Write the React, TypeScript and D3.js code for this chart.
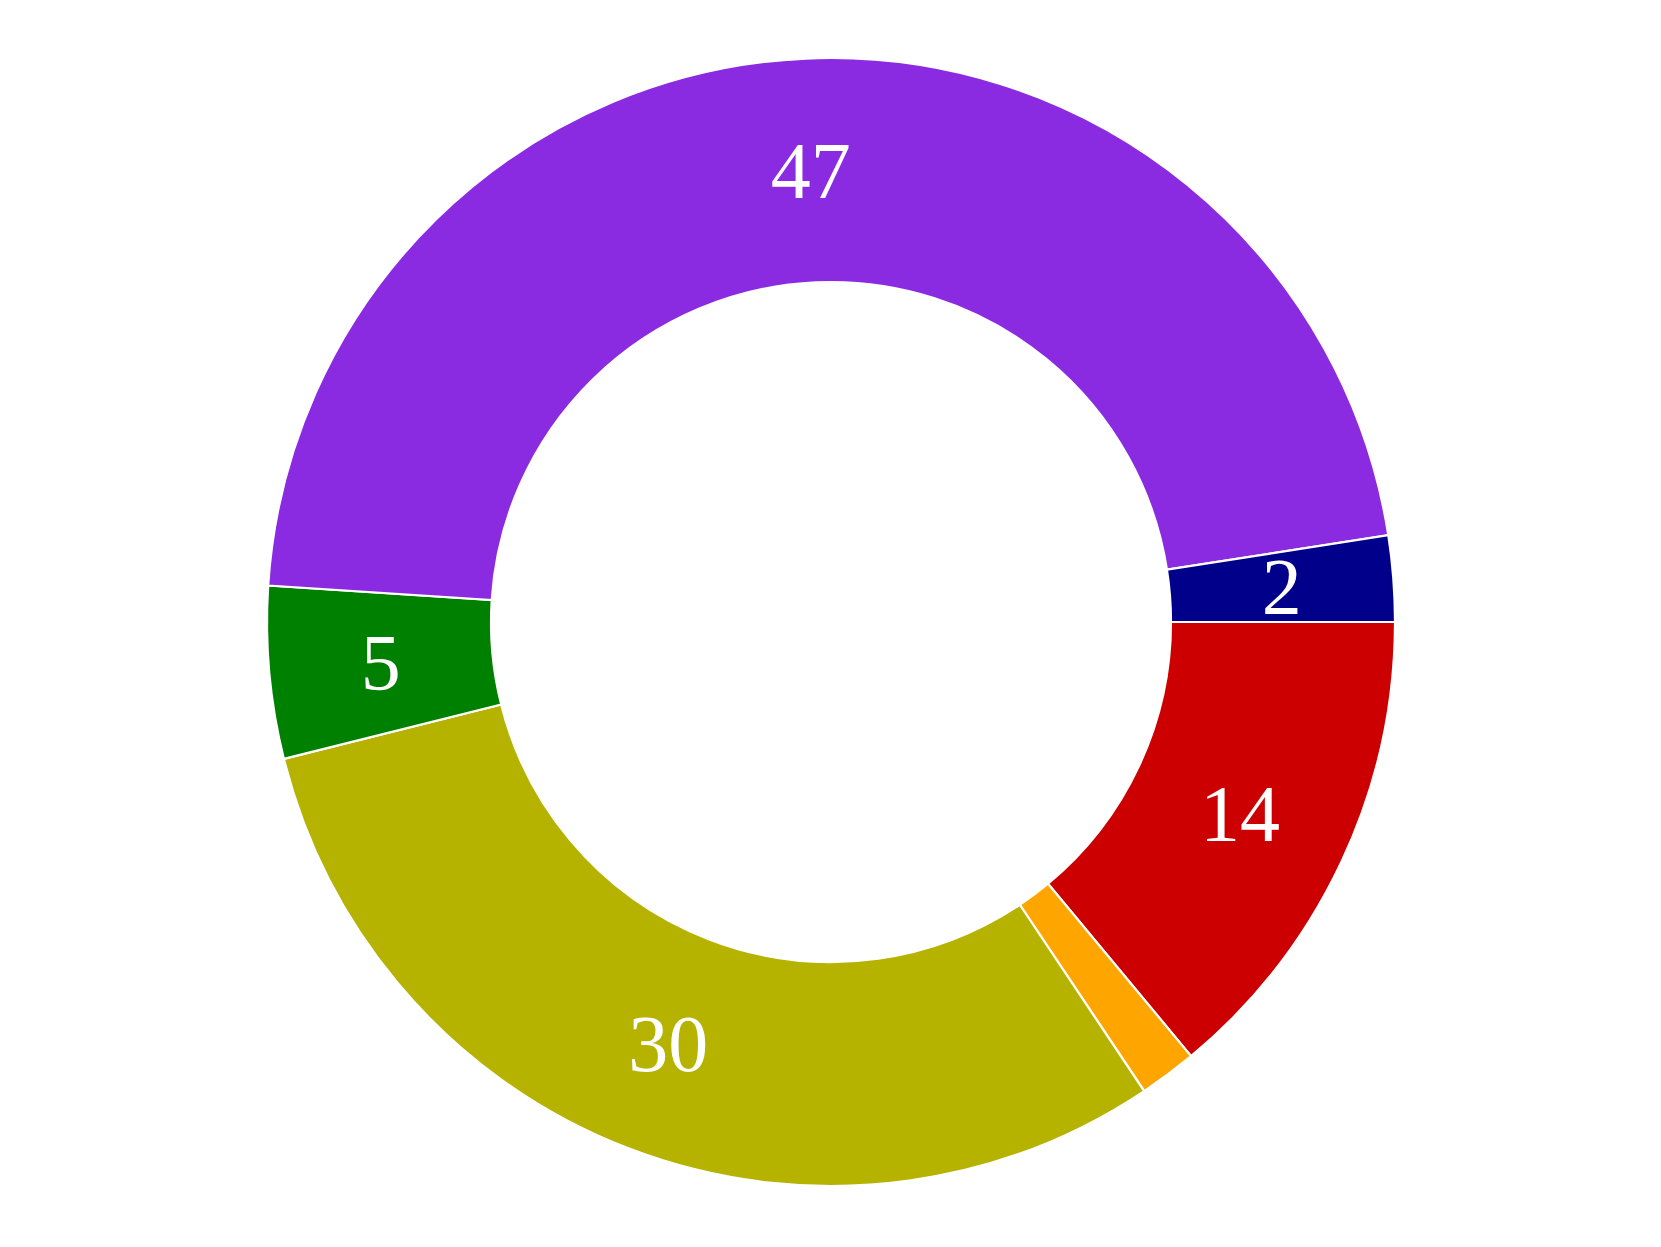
import React from "react";
import * as d3 from "d3";

// slices in drawing order, clockwise from 3 o'clock
const names = ["red", "orange", "olive", "green", "purple", "navy"];
const values = [13.98, 1.65, 30.47, 4.93, 46.51, 2.46];
const colors = ["#CC0000", "#FFA500", "#B5B300", "#008000", "#8A2BE2", "#00008B"];
const labels = ["14", "", "30", "5", "47", "2"];

const width = 1661;
const height = 1247;

const App = () => {
  const cx = 831;
  const cy = 622;
  const outer = 564;
  const inner = 340;

  const pie = d3
    .pie<number>()
    .sort(null)
    .value((d) => d)
    .startAngle(Math.PI / 2)
    .endAngle(Math.PI / 2 + 2 * Math.PI);

  const arc = d3.arc<d3.PieArcDatum<number>>().innerRadius(inner).outerRadius(outer);
  const slices = pie(values);

  return (
    <svg
      width={width}
      height={height}
      style={{ position: "absolute", left: 0, top: 0, background: "#fff" }}
      shapeRendering="geometricPrecision"
    >
      <g transform={`translate(${cx},${cy})`}>
        {slices.map((s, i) => (
          <path
            key={names[i]}
            d={arc(s) || ""}
            fill={colors[i]}
            stroke="#fff"
            strokeWidth={2.2}
          />
        ))}
        {slices.map((s, i) => {
          const [x, y] = arc.centroid(s);
          return labels[i] ? (
            <text
              key={"t" + i}
              x={x}
              y={y}
              dy="0.34em"
              textAnchor="middle"
              fill="#fff"
              fontFamily="'Liberation Serif', 'Times New Roman', Times, serif"
              fontSize={80}
            >
              {labels[i]}
            </text>
          ) : null;
        })}
      </g>
    </svg>
  );
};

export default App;
